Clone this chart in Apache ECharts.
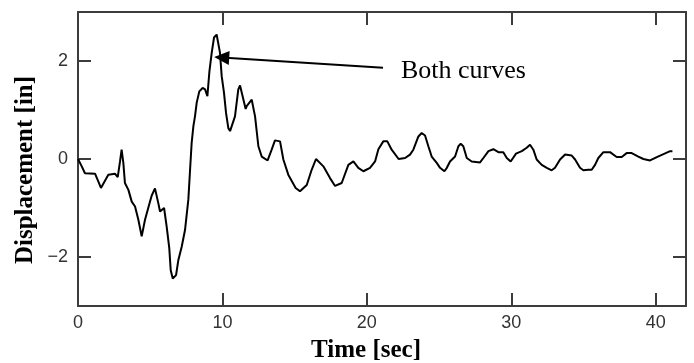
<!DOCTYPE html>
<html>
<head>
<meta charset="utf-8">
<script src="https://cdn.jsdelivr.net/npm/echarts@6/dist/echarts.min.js"></script>
<style>
  html, body { margin: 0; padding: 0; background: #fff; }
  #chart { width: 694px; height: 363px; }
</style>
</head>
<body>
<div id="chart"></div>
<script>
// time [sec] and displacement [in]
var time = [0, 0.26, 0.48, 1.18, 1.59, 2.1, 2.56, 2.75, 2.91, 3.02, 3.14, 3.25, 3.49, 3.72, 3.95, 4.18, 4.41, 4.64, 4.92, 5.1,
  5.33, 5.56, 5.68, 5.96, 6.14, 6.32, 6.42, 6.56, 6.79, 6.95, 7.18, 7.41, 7.64, 7.76, 7.87, 7.99, 8.1, 8.22, 8.4, 8.63,
  8.8, 8.96, 9.1, 9.26, 9.42, 9.6, 9.72, 9.83, 9.95, 10.11, 10.25, 10.41, 10.53, 10.87, 11.1, 11.22, 11.33, 11.61, 11.68, 12.03,
  12.26, 12.49, 12.72, 13.13, 13.41, 13.64, 13.99, 14.22, 14.56, 15.07, 15.37, 15.84, 16.18, 16.48, 16.99, 17.45, 17.8, 18.26, 18.72, 19.07,
  19.41, 19.76, 20.22, 20.57, 20.8, 21.14, 21.42, 21.72, 22.2, 22.65, 22.99, 23.22, 23.57, 23.8, 24.03, 24.26, 24.49, 24.84, 25.07, 25.37,
  25.54, 25.76, 26.11, 26.34, 26.5, 26.68, 26.92, 27.26, 27.84, 28.07, 28.42, 28.76, 29.11, 29.45, 29.69, 29.96, 30.33, 30.73, 31.07, 31.3,
  31.53, 31.76, 32.11, 32.46, 32.8, 33.03, 33.38, 33.73, 34.19, 34.42, 34.76, 34.99, 35.34, 35.57, 35.8, 36.03, 36.38, 36.84, 37.3, 37.65,
  37.99, 38.34, 38.8, 39.15, 39.61, 40.08, 40.54, 41.0, 41.16];
var disp = [0, -0.15, -0.29, -0.30, -0.59, -0.32, -0.30, -0.37, -0.05, 0.19, -0.08, -0.49, -0.63, -0.87, -0.97, -1.24, -1.58, -1.24, -0.94, -0.75,
  -0.6, -0.9, -1.07, -1.0, -1.38, -1.82, -2.27, -2.44, -2.37, -2.06, -1.79, -1.45, -0.83, -0.22, 0.33, 0.67, 0.87, 1.15, 1.38, 1.45,
  1.42, 1.28, 1.79, 2.17, 2.48, 2.54, 2.51, 2.17, 1.69, 1.35, 0.94, 0.63, 0.57, 0.87, 1.42, 1.5, 1.49, 1.02, 1.08, 1.21,
  0.87, 0.26, 0.05, -0.03, 0.19, 0.38, 0.36, -0.01, -0.32, -0.59, -0.66, -0.53, -0.22, 0.0, -0.15, -0.39, -0.55, -0.49, -0.12, -0.05,
  -0.18, -0.25, -0.18, -0.05, 0.2, 0.36, 0.36, 0.19, 0.0, 0.02, 0.09, 0.19, 0.46, 0.53, 0.48, 0.26, 0.05, -0.08, -0.18, -0.25,
  -0.18, -0.05, 0.05, 0.26, 0.31, 0.26, 0.02, -0.05, -0.07, 0.02, 0.16, 0.2, 0.14, 0.14, 0.02, -0.05, 0.11, 0.16, 0.23, 0.29,
  0.19, -0.01, -0.12, -0.18, -0.23, -0.18, -0.01, 0.09, 0.07, -0.01, -0.18, -0.23, -0.22, -0.22, -0.12, 0.02, 0.14, 0.14, 0.04, 0.04,
  0.12, 0.12, 0.05, 0.0, -0.03, 0.04, 0.10, 0.16, 0.16];

var xTicks = [0, 10, 20, 30, 40];
var yTicks = [-2, 0, 2];
// arrow: from label end to the peak
var arrowFrom = [21.12, 1.86];
var arrowTo = [9.95, 2.07];

var points = [];
for (var i = 0; i < time.length; i++) {
  points.push([time[i], disp[i]]);
}

var frame = { show: true, onZero: false, lineStyle: { color: '#3c3c3c', width: 2 } };
var ticks = { show: true, inside: true, length: 13, lineStyle: { color: '#3c3c3c', width: 2 } };

function xAx(pos, labels) {
  return {
    type: 'value', position: pos, min: 0, max: 42.1,
    axisLine: frame,
    axisTick: Object.assign({}, ticks, { customValues: xTicks }),
    axisLabel: {
      show: labels, customValues: xTicks, margin: 8,
      color: '#333', fontSize: 18, fontFamily: 'Liberation Sans'
    },
    splitLine: { show: false }
  };
}
function yAx(pos, labels) {
  return {
    type: 'value', position: pos, min: -3, max: 3,
    axisLine: frame,
    axisTick: Object.assign({}, ticks, { customValues: yTicks }),
    axisLabel: {
      show: labels, customValues: yTicks, margin: 10,
      color: '#333', fontSize: 18, fontFamily: 'Liberation Sans',
      formatter: function (v) { return v < 0 ? '\u2212' + Math.abs(v) : String(v); }
    },
    splitLine: { show: false }
  };
}

var chart = echarts.init(document.getElementById('chart'));
chart.setOption({
  animation: false,
  grid: { left: 78, top: 12, right: 8, bottom: 57 },
  xAxis: [xAx('bottom', true), xAx('top', false)],
  yAxis: [yAx('left', true), yAx('right', false)],
  graphic: [
    {
      type: 'text', x: 366, y: 351,
      style: { text: 'Time [sec]', font: 'bold 25px "Liberation Serif"', fill: '#000', align: 'center', verticalAlign: 'middle' }
    },
    {
      type: 'text', x: 26, y: 170, rotation: Math.PI / 2,
      style: { text: 'Displacement [in]', font: 'bold 25px "Liberation Serif"', fill: '#000', align: 'center', verticalAlign: 'middle' }
    },
    {
      type: 'text', x: 401, y: 71,
      style: { text: 'Both curves', font: '26px "Liberation Serif"', fill: '#000', align: 'left', verticalAlign: 'middle' }
    }
  ],
  series: [{
    type: 'line',
    data: points,
    showSymbol: false,
    lineStyle: { color: '#000', width: 2 },
    silent: true,
    markLine: {
      silent: true,
      animation: false,
      label: { show: false },
      lineStyle: { color: '#000', width: 2, type: 'solid' },
      emphasis: { disabled: true },
      data: [[
        { coord: arrowFrom, symbol: 'none' },
        { coord: arrowTo, symbol: 'triangle', symbolSize: [14, 15] }
      ]]
    }
  }]
});
</script>
</body>
</html>
